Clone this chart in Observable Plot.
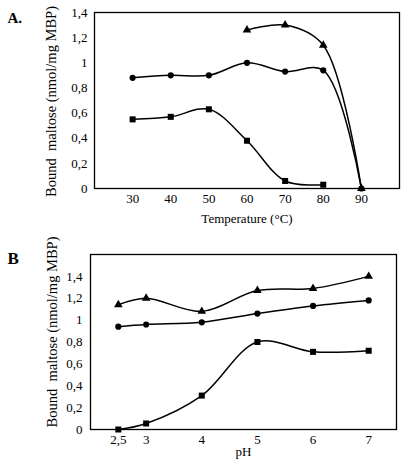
<!DOCTYPE html>
<html>
<head>
<meta charset="utf-8">
<script src="https://cdn.jsdelivr.net/npm/d3@7"></script>
<script src="https://cdn.jsdelivr.net/npm/@observablehq/plot@0.6"></script>
<style>
  html, body { margin: 0; padding: 0; background: white; }
  #chart { width: 408px; height: 469px; }
  #chart svg { display: block; }
</style>
</head>
<body>
<div id="chart"></div>
<script>
// Panel A: temperature
const tempA = [30, 40, 50, 60, 70, 80, 90];
const triangleA = [null, null, null, 1.26, 1.30, 1.14, 0];
const circleA = [0.88, 0.90, 0.90, 1.00, 0.93, 0.94, 0];
const squareA = [0.55, 0.57, 0.63, 0.38, 0.06, 0.03, null];
const xTicksA = [30, 40, 50, 60, 70, 80, 90];
const xTickLabelsA = ["30", "40", "50", "60", "70", "80", "90"];

// Panel B: pH
const pHB = [2.5, 3, 4, 5, 6, 7];
const triangleB = [1.14, 1.20, 1.08, 1.27, 1.29, 1.40];
const circleB = [0.94, 0.96, 0.98, 1.06, 1.13, 1.18];
const squareB = [0.00, 0.055, 0.31, 0.80, 0.71, 0.72];
const xTicksB = [2.5, 3, 4, 5, 6, 7];
const xTickLabelsB = ["2,5", "3", "4", "5", "6", "7"];

const yTicks = [0, 0.2, 0.4, 0.6, 0.8, 1, 1.2, 1.4];
const yTickLabels = ["0", "0,2", "0,4", "0,6", "0,8", "1", "1,2", "1,4"];

const yLabel = "Bound  maltose (nmol/mg MBP)";

function rows(xs, ys) {
  return xs.map((x, i) => ({x, y: ys[i]})).filter(d => d.y != null);
}
function fmt(values, labels) {
  const m = new Map(values.map((v, i) => [v, labels[i]]));
  return d => m.get(d);
}

const font = "'Liberation Serif', 'Times New Roman', serif";

function seriesMarks(xs, tri, cir, sq) {
  const out = [];
  const specs = [[tri, "triangle", 3.2], [cir, "circle", 3.1], [sq, "square", 3.4]];
  for (const [ys, sym, r] of specs) {
    const data = rows(xs, ys);
    out.push(Plot.line(data, {x: "x", y: "y", stroke: "black", strokeWidth: 1.5, curve: "catmull-rom"}));
    out.push(Plot.dot(data, {x: "x", y: "y", symbol: sym, r, fill: "black", stroke: "none"}));
  }
  return out;
}

const plotA = Plot.plot({
  width: 408, height: 225,
  marginLeft: 94, marginRight: 9, marginTop: 12, marginBottom: 37,
  style: {fontFamily: font, fontSize: "13px", color: "black", background: "white", overflow: "visible"},
  x: {domain: [20, 100]},
  y: {domain: [0, 1.4]},
  marks: [
    Plot.axisX({ticks: xTicksA, tickFormat: fmt(xTicksA, xTickLabelsA), tickSize: 0, tickPadding: 5,
      label: "Temperature (°C)", labelAnchor: "center", labelArrow: "none", labelOffset: 34}),
    Plot.axisY({ticks: yTicks, tickFormat: fmt(yTicks, yTickLabels), tickSize: 0, tickPadding: 7, label: null}),
    Plot.text([yLabel], {text: d => d, frameAnchor: "left", textAnchor: "middle", rotate: -90, dx: -43, dy: 1, fontSize: 14.5}),
    Plot.text(["A."], {text: d => d, frameAnchor: "top-left", textAnchor: "start", dx: -87, dy: 0, fontSize: 15, fontWeight: "bold"}),
    Plot.frame({stroke: "black", strokeWidth: 1.3}),
    ...seriesMarks(tempA, triangleA, circleA, squareA)
  ]
});

const plotB = Plot.plot({
  width: 408, height: 244,
  marginLeft: 90, marginRight: 12, marginTop: 29, marginBottom: 40,
  style: {fontFamily: font, fontSize: "13px", color: "black", background: "white", overflow: "visible"},
  x: {domain: [2, 7.5]},
  y: {domain: [0, 1.6]},
  marks: [
    Plot.axisX({ticks: xTicksB, tickFormat: fmt(xTicksB, xTickLabelsB), tickSize: 0, tickPadding: 5,
      label: "pH", labelAnchor: "center", labelArrow: "none", labelOffset: 26}),
    Plot.axisY({ticks: yTicks, tickFormat: fmt(yTicks, yTickLabels), tickSize: 0, tickPadding: 8, label: null}),
    Plot.text([yLabel], {text: d => d, frameAnchor: "left", textAnchor: "middle", rotate: -90, dx: -38, dy: -10, fontSize: 14.5}),
    Plot.text(["B"], {text: d => d, frameAnchor: "top-left", textAnchor: "start", dx: -83, dy: -3, fontSize: 17, fontWeight: "bold"}),
    Plot.frame({stroke: "black", strokeWidth: 1.3}),
    ...seriesMarks(pHB, triangleB, circleB, squareB)
  ]
});

const chart = document.getElementById("chart");
chart.appendChild(plotA);
chart.appendChild(plotB);
</script>
</body>
</html>
